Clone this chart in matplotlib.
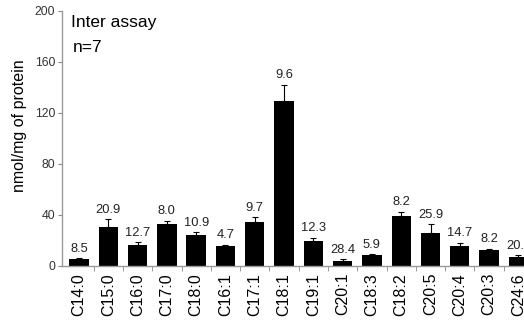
import matplotlib
matplotlib.use('Agg')
import matplotlib.pyplot as plt
import numpy as np

plt.rcParams['font.family'] = ['Liberation Sans', 'DejaVu Sans']

# fatty acids, mean amount and SD (nmol/mg of protein), and CV labels (%)
acids = ['C14:0', 'C15:0', 'C16:0', 'C17:0', 'C18:0', 'C16:1', 'C17:1', 'C18:1',
         'C19:1', 'C20:1', 'C18:3', 'C18:2', 'C20:5', 'C20:4', 'C20:3', 'C24:6']
means = [5.5, 30.3, 16.2, 32.9, 24.0, 15.9, 34.7, 129.2,
         19.6, 4.2, 8.6, 39.1, 26.1, 15.9, 12.5, 6.8]
sds = [0.5, 6.3, 2.3, 2.7, 2.6, 0.8, 3.4, 13.0,
       2.5, 1.2, 0.8, 3.5, 6.8, 2.5, 1.1, 1.5]
cv = ['8.5', '20.9', '12.7', '8.0', '10.9', '4.7', '9.7', '9.6',
      '12.3', '28.4', '5.9', '8.2', '25.9', '14.7', '8.2', '20.6']

fig = plt.figure(figsize=(5.24, 3.23), dpi=100)
ax = fig.add_axes([0.1183, 0.1765, 0.899, 0.7895])

x = np.arange(len(acids))
ax.bar(x, means, width=0.66, color='black', zorder=2)
ax.errorbar(x, means, yerr=[np.zeros(len(sds)), sds], fmt='none',
            ecolor='black', elinewidth=0.8, capsize=2.5, capthick=0.8, zorder=3)

# CV labels above the error bars
for xi, m, s, lab in zip(x, means, sds, cv):
    ax.annotate(lab, (xi, m + s), xytext=(0, 2.5), textcoords='offset points',
                ha='center', va='bottom', fontsize=9.3, color='#222222')

ax.set_xlim(-0.58, 15.5)
ax.set_ylim(0, 200)
ax.set_yticks([0, 40, 80, 120, 160, 200])
ax.set_xticks(x)
ax.set_xticklabels(acids, rotation=90, fontsize=11.5)
ax.set_xticks(x[:-1] + 0.5, minor=True)
ax.tick_params(axis='x', which='major', length=0, pad=5)
ax.tick_params(axis='x', which='minor', length=3.5, color='#888888', direction='out')
ax.tick_params(axis='y', length=3, color='#888888', labelsize=8.8, pad=2, labelcolor='#333333')

for side in ['top', 'right']:
    ax.spines[side].set_visible(False)
for side in ['left', 'bottom']:
    ax.spines[side].set_color('#9a9a9a')
    ax.spines[side].set_linewidth(1.0)

ax.set_ylabel('nmol/mg of protein', fontsize=11.5, labelpad=0)
ax.yaxis.set_label_coords(-0.075, 0.55)
ax.text(0.02, 0.985, 'Inter assay', transform=ax.transAxes, fontsize=12.5,
        ha='left', va='top')
ax.text(0.022, 0.885, 'n=7', transform=ax.transAxes, fontsize=12.5,
        ha='left', va='top')

fig.savefig('out.png', dpi=100)
